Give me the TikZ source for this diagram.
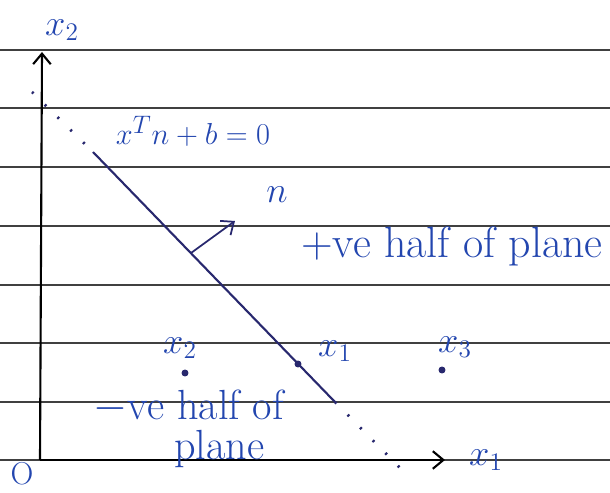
\documentclass[tikz,border=0pt]{standalone}
\usepackage{amsmath}
\usepackage{tikz}
\usetikzlibrary{arrows.meta}
\definecolor{ink}{RGB}{35,70,175}
\definecolor{pen}{RGB}{40,40,110}

\begin{document}
\begin{tikzpicture}[x=0.02cm, y=-0.02cm, >={Straight Barb[length=6pt,width=10pt]},
    rule/.style={line width=0.8pt, black!75},
    axis/.style={line width=1.2pt, ->},
    lbl/.style={text=ink, font=\huge},
    big/.style={text=ink, font=\fontsize{24}{23}\selectfont},
    pt/.style={circle, fill=pen, inner sep=1.4pt}]
    \useasboundingbox (0,0) rectangle (610,493);
    % ruled paper
    \foreach \y in {50,108,167,226,285,343,402,460}
        \draw[rule] (0,\y) -- (610,\y);
    % axes
    \coordinate (O) at (40,460);
    \coordinate (ytip) at (42,52);
    \coordinate (xtip) at (445,460);
    \draw[axis] (O) -- (ytip);
    \draw[axis] (O) -- (xtip);
    \node[lbl] (lx2) at (62,30) {$x_2$};
    \node[lbl] (lx1) at (486,460) {$x_1$};
    \node[lbl, font=\fontsize{18}{20}\selectfont] (lo) at (22,474) {O};
    % hyperplane
    \coordinate (h0) at (32,92);
    \coordinate (h1) at (93,152);
    \coordinate (h2) at (335,402);
    \coordinate (h3) at (408,476);
    \draw[pen, line width=1.2pt] (h1) -- (h2);
    \draw[pen, line width=1.6pt, dash pattern=on 1.2pt off 9pt] (h0) -- (h1) (h2) -- (h3);
    \node[lbl, font=\fontsize{19}{22}\selectfont] (eq) at (193,131) {$x^{T}n + b = 0$};
    % normal vector
    \coordinate (nfoot) at (191,253);
    \coordinate (ntip) at (235,221);
    \draw[->, pen, line width=1pt] (nfoot) -- (ntip);
    \node[lbl] (ln) at (277,195) {$n$};
    % points
    \node[pt] (p2) at (185,373) {};
    \node[pt] (p1) at (298,364) {};
    \node[pt] (p3) at (442,370) {};
    \node[lbl] (lp2) at (180,348) {$x_2$};
    \node[lbl] (lp1) at (335,351) {$x_1$};
    \node[lbl] (lp3) at (455,347) {$x_3$};
    % half planes
    \node[big] (pos) at (452,246) {\fontsize{25}{28}\selectfont +ve half of plane};
    \node[big, align=left] (neg) at (189,429) {$-$ve half of\\\hspace*{1.9em}plane};
\end{tikzpicture}
\end{document}
